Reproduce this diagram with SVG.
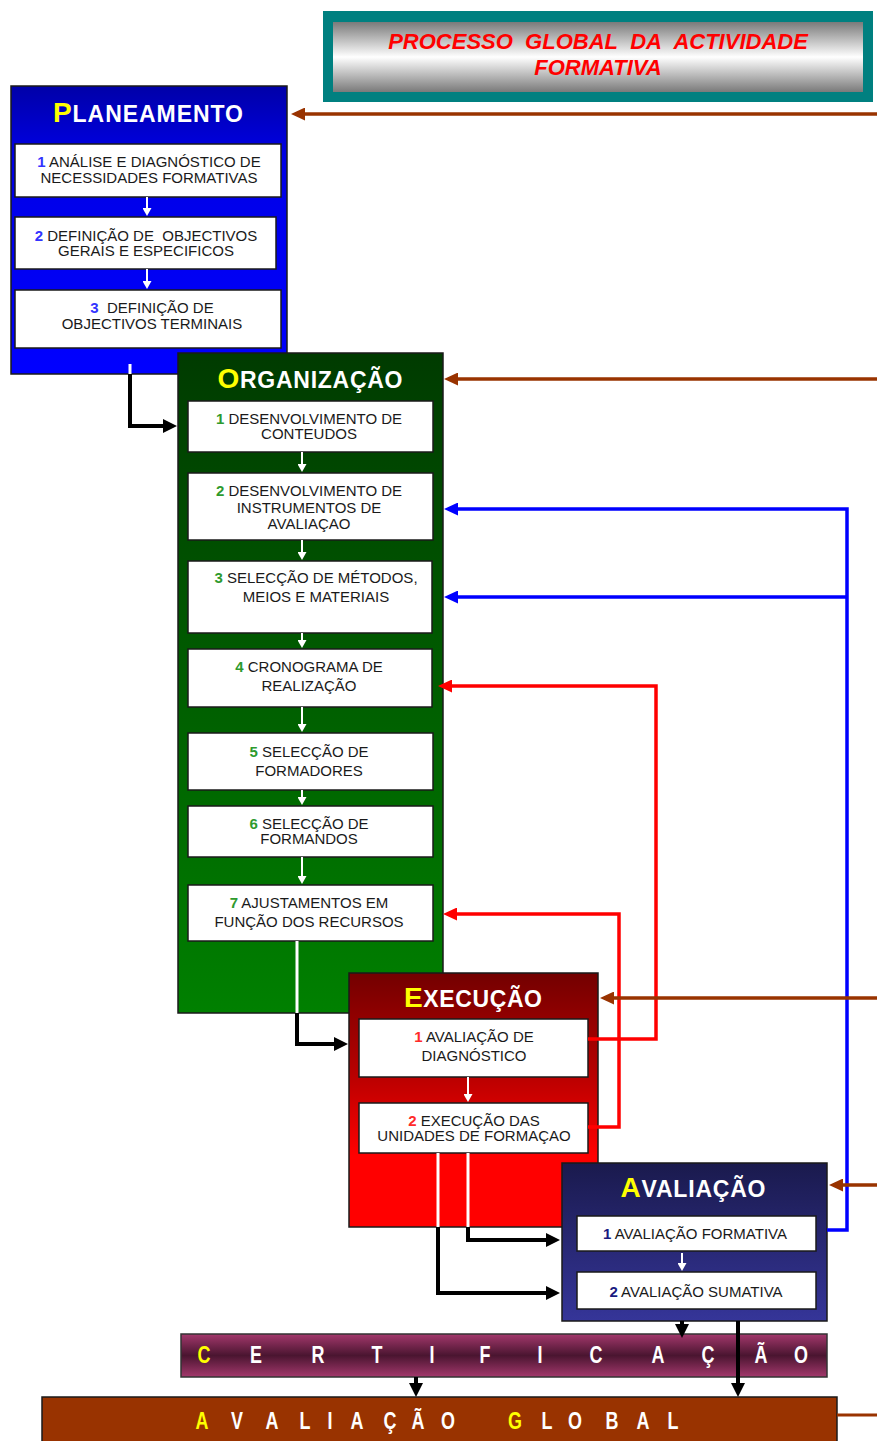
<svg xmlns="http://www.w3.org/2000/svg" width="877" height="1441" viewBox="0 0 877 1441">
<style>
.big{stroke:#1a1a1a;stroke-width:1.5}
.sub{fill:#fff;stroke:#1a1a1a;stroke-width:1.5}
.t{font-family:"Liberation Sans",Arial,sans-serif;font-size:15px;fill:#1a1a1a;text-anchor:middle}
.n{font-weight:bold}
.np{fill:#3333ff}.ng{fill:#2e9a2e}.nr{fill:#ff2a2a}.nb{fill:#1a1a80}
.h{font-family:"Liberation Sans",Arial,sans-serif;font-weight:bold;font-size:23px;fill:#fff;text-anchor:middle}
.hy{fill:#ffff00;font-size:28px}
.title{font-family:"Liberation Sans",Arial,sans-serif;font-weight:bold;font-style:italic;font-size:22px;fill:#ff0000;text-anchor:middle}
.sp{font-family:"Liberation Sans",Arial,sans-serif;font-weight:bold;font-size:23px;fill:#fff;text-anchor:middle}
.y{fill:#ffff00}
.wl{stroke:#fff;stroke-width:3;fill:none}
.wa{stroke:#fff;stroke-width:2;fill:none;marker-end:url(#aw)}
.bk{stroke:#000;stroke-width:4;fill:none;marker-end:url(#ak)}
.br{stroke:#993300;stroke-width:3.5;fill:none;marker-end:url(#abr)}
.bl{stroke:#0000ff;stroke-width:3.5;fill:none}
.rd{stroke:#ff0000;stroke-width:3.5;fill:none;marker-end:url(#ard)}
</style>
<defs>
<linearGradient id="gTitle" x1="0" y1="0" x2="0" y2="1">
<stop offset="0" stop-color="#7a7a7a"/><stop offset="0.5" stop-color="#ffffff"/><stop offset="1" stop-color="#7a7a7a"/>
</linearGradient>
<linearGradient id="gPlan" x1="0" y1="0" x2="0" y2="1">
<stop offset="0" stop-color="#0000a8"/><stop offset="0.25" stop-color="#0000e6"/><stop offset="1" stop-color="#0000ff"/>
</linearGradient>
<linearGradient id="gOrg" x1="0" y1="0" x2="0" y2="1">
<stop offset="0" stop-color="#003b00"/><stop offset="0.3" stop-color="#004f00"/><stop offset="1" stop-color="#008000"/>
</linearGradient>
<linearGradient id="gExe" x1="0" y1="0" x2="0" y2="1">
<stop offset="0" stop-color="#730000"/><stop offset="0.4" stop-color="#b80000"/><stop offset="0.72" stop-color="#ff0000"/><stop offset="1" stop-color="#ff0000"/>
</linearGradient>
<linearGradient id="gAva" x1="0" y1="0" x2="0" y2="1">
<stop offset="0" stop-color="#1a1a4d"/><stop offset="1" stop-color="#353599"/>
</linearGradient>
<linearGradient id="gCert" x1="0" y1="0" x2="0" y2="1">
<stop offset="0" stop-color="#a3386c"/><stop offset="0.5" stop-color="#4a1530"/><stop offset="1" stop-color="#a3386c"/>
</linearGradient>
<marker id="ak" markerUnits="userSpaceOnUse" markerWidth="14" markerHeight="14" refX="10" refY="7" orient="auto"><path d="M0,0 L14,7 L0,14 z" fill="#000"/></marker>
<marker id="abr" markerUnits="userSpaceOnUse" markerWidth="14" markerHeight="13" refX="10" refY="6.5" orient="auto"><path d="M0,0 L14,6.5 L0,13 z" fill="#993300"/></marker>
<marker id="abl" markerUnits="userSpaceOnUse" markerWidth="14" markerHeight="13" refX="10" refY="6.5" orient="auto"><path d="M0,0 L14,6.5 L0,13 z" fill="#0000ff"/></marker>
<marker id="ard" markerUnits="userSpaceOnUse" markerWidth="14" markerHeight="13" refX="10" refY="6.5" orient="auto"><path d="M0,0 L14,6.5 L0,13 z" fill="#ff0000"/></marker>
<marker id="aw" markerUnits="userSpaceOnUse" markerWidth="8" markerHeight="9" refX="5" refY="4.5" orient="auto"><path d="M0,0 L8,4.5 L0,9 z" fill="#fff"/></marker>
</defs>
<rect width="877" height="1441" fill="#fff"/>

<g id="title">
<rect x="323" y="11" width="550" height="91" fill="#008080"/>
<rect x="333" y="22" width="530" height="70" fill="url(#gTitle)"/>
<text class="title" x="598" y="49">PROCESSO&#160; GLOBAL&#160; DA&#160; ACTIVIDADE</text>
<text class="title" x="598" y="75">FORMATIVA</text>
</g>

<g id="planeamento">
<rect class="big" x="11" y="86" width="276" height="288" fill="url(#gPlan)"/>
<text class="h" x="148" y="122" textLength="190" lengthAdjust="spacing"><tspan class="hy">P</tspan>LANEAMENTO</text>
<rect class="sub" x="15" y="144" width="266" height="53"/>
<text class="t" x="149" y="167"><tspan class="n np">1</tspan> ANÁLISE E DIAGNÓSTICO DE</text>
<text class="t" x="149" y="183">NECESSIDADES FORMATIVAS</text>
<rect class="sub" x="15" y="217" width="261" height="52"/>
<text class="t" x="146" y="241"><tspan class="n np">2</tspan> DEFINIÇÃO DE&#160; OBJECTIVOS</text>
<text class="t" x="146" y="256">GERAIS E ESPECIFICOS</text>
<rect class="sub" x="15" y="290" width="266" height="58"/>
<text class="t" x="152" y="313"><tspan class="n np">3</tspan>&#160; DEFINIÇÃO DE</text>
<text class="t" x="152" y="329">OBJECTIVOS TERMINAIS</text>
<line class="wa" x1="147" y1="197" x2="147" y2="213"/>
<line class="wa" x1="147" y1="269" x2="147" y2="286"/>
<line class="wl" x1="130" y1="364" x2="130" y2="374"/>
</g>

<g id="organizacao">
<rect class="big" x="178" y="353" width="265" height="660" fill="url(#gOrg)"/>
<text class="h" x="310" y="388" textLength="185" lengthAdjust="spacing"><tspan class="hy">O</tspan>RGANIZAÇÃO</text>
<rect class="sub" x="188" y="401" width="245" height="51"/>
<text class="t" x="309" y="424"><tspan class="n ng">1</tspan> DESENVOLVIMENTO DE</text>
<text class="t" x="309" y="439">CONTEUDOS</text>
<rect class="sub" x="188" y="473" width="245" height="67"/>
<text class="t" x="309" y="496"><tspan class="n ng">2</tspan> DESENVOLVIMENTO DE</text>
<text class="t" x="309" y="513">INSTRUMENTOS DE</text>
<text class="t" x="309" y="529">AVALIAÇAO</text>
<rect class="sub" x="188" y="561" width="244" height="72"/>
<text class="t" x="316" y="583"><tspan class="n ng">3</tspan> SELECÇÃO DE MÉTODOS,</text>
<text class="t" x="316" y="602">MEIOS E MATERIAIS</text>
<rect class="sub" x="188" y="649" width="244" height="58"/>
<text class="t" x="309" y="672"><tspan class="n ng">4</tspan> CRONOGRAMA DE</text>
<text class="t" x="309" y="691">REALIZAÇÃO</text>
<rect class="sub" x="188" y="733" width="245" height="57"/>
<text class="t" x="309" y="757"><tspan class="n ng">5</tspan> SELECÇÃO DE</text>
<text class="t" x="309" y="776">FORMADORES</text>
<rect class="sub" x="188" y="806" width="245" height="51"/>
<text class="t" x="309" y="829"><tspan class="n ng">6</tspan> SELECÇÃO DE</text>
<text class="t" x="309" y="844">FORMANDOS</text>
<rect class="sub" x="188" y="885" width="245" height="56"/>
<text class="t" x="309" y="908"><tspan class="n ng">7</tspan> AJUSTAMENTOS EM</text>
<text class="t" x="309" y="927">FUNÇÃO DOS RECURSOS</text>
<line class="wa" x1="302" y1="452" x2="302" y2="469"/>
<line class="wa" x1="302" y1="540" x2="302" y2="557"/>
<line class="wa" x1="302" y1="633" x2="302" y2="645"/>
<line class="wa" x1="302" y1="707" x2="302" y2="729"/>
<line class="wa" x1="302" y1="790" x2="302" y2="802"/>
<line class="wa" x1="302" y1="857" x2="302" y2="881"/>
<line class="wl" x1="297" y1="941" x2="297" y2="1013"/>
</g>

<g id="execucao">
<rect class="big" x="349" y="973" width="249" height="254" fill="url(#gExe)"/>
<text class="h" x="473" y="1007" textLength="138" lengthAdjust="spacing"><tspan class="hy">E</tspan>XECUÇÃO</text>
<rect class="sub" x="359" y="1019" width="229" height="58"/>
<text class="t" x="474" y="1042"><tspan class="n nr">1</tspan> AVALIAÇÃO DE</text>
<text class="t" x="474" y="1061">DIAGNÓSTICO</text>
<rect class="sub" x="359" y="1103" width="229" height="50"/>
<text class="t" x="474" y="1126"><tspan class="n nr">2</tspan> EXECUÇÃO DAS</text>
<text class="t" x="474" y="1141">UNIDADES DE FORMAÇAO</text>
<line class="wa" x1="468" y1="1077" x2="468" y2="1099"/>
<line class="wl" x1="438" y1="1153" x2="438" y2="1227"/>
<line class="wl" x1="468" y1="1153" x2="468" y2="1227"/>
</g>

<g id="avaliacao">
<rect class="big" x="562" y="1163" width="265" height="158" fill="url(#gAva)"/>
<text class="h" x="693" y="1197" textLength="145" lengthAdjust="spacing"><tspan class="hy">A</tspan>VALIAÇÃO</text>
<rect class="sub" x="577" y="1216" width="239" height="35"/>
<text class="t" x="695" y="1239"><tspan class="n nb">1</tspan> AVALIAÇÃO FORMATIVA</text>
<rect class="sub" x="577" y="1272" width="239" height="37"/>
<text class="t" x="696" y="1297"><tspan class="n nb">2</tspan> AVALIAÇÃO SUMATIVA</text>
<line class="wa" x1="682" y1="1253" x2="682" y2="1268"/>
</g>

<g id="certificacao">
<rect x="181" y="1334" width="646" height="43" fill="url(#gCert)" stroke="#333" stroke-width="1.5"/>
<text class="sp" transform="scale(0.78,1)" x="261.5 328.2 407.7 483.3 553.8 621.8 692.3 764.1 843.6 907.7 975.6 1026.9" y="1363"><tspan class="y">C</tspan>ERTIFICAÇÃO</text>
</g>

<g id="avaliacao-global">
<rect x="42" y="1397" width="795" height="46" fill="#993300" stroke="#1a1a1a" stroke-width="1.5"/>
<text class="sp" transform="scale(0.78,1)" x="259 303.8 348.7 391 423.1 457.7 500 535.9 574.4 660.3 701.3 737.2 784.6 824.4 862.8" y="1429"><tspan class="y">A</tspan>VALIAÇÃO<tspan class="y">G</tspan>LOBAL</text>
</g>

<g id="connectors">
<polyline class="bk" points="130,374 130,426 173,426"/>
<polyline class="bk" points="297,1013 297,1044 344,1044"/>
<polyline class="bk" points="468,1227 468,1240 556,1240"/>
<polyline class="bk" points="438,1227 438,1293 556,1293"/>
<line class="bk" x1="682" y1="1321" x2="682" y2="1334"/>
<line class="bk" x1="738" y1="1321" x2="738" y2="1393"/>
<line class="bk" x1="416" y1="1377" x2="416" y2="1393"/>
<polyline class="rd" points="588,1039 656,1039 656,686 442,686"/>
<polyline class="rd" points="588,1127 619,1127 619,914 447,914"/>
<polyline class="bl" points="827,1230 847,1230 847,509 448,509" marker-end="url(#abl)"/>
<polyline class="bl" points="847,597 448,597" marker-end="url(#abl)"/>
<line class="br" x1="877" y1="114" x2="295" y2="114"/>
<line class="br" x1="877" y1="379" x2="448" y2="379"/>
<line class="br" x1="877" y1="998" x2="604" y2="998"/>
<line class="br" x1="877" y1="1185" x2="833" y2="1185"/>
<line stroke="#993300" stroke-width="3" x1="837" y1="1415" x2="877" y2="1415"/>
</g>
</svg>
